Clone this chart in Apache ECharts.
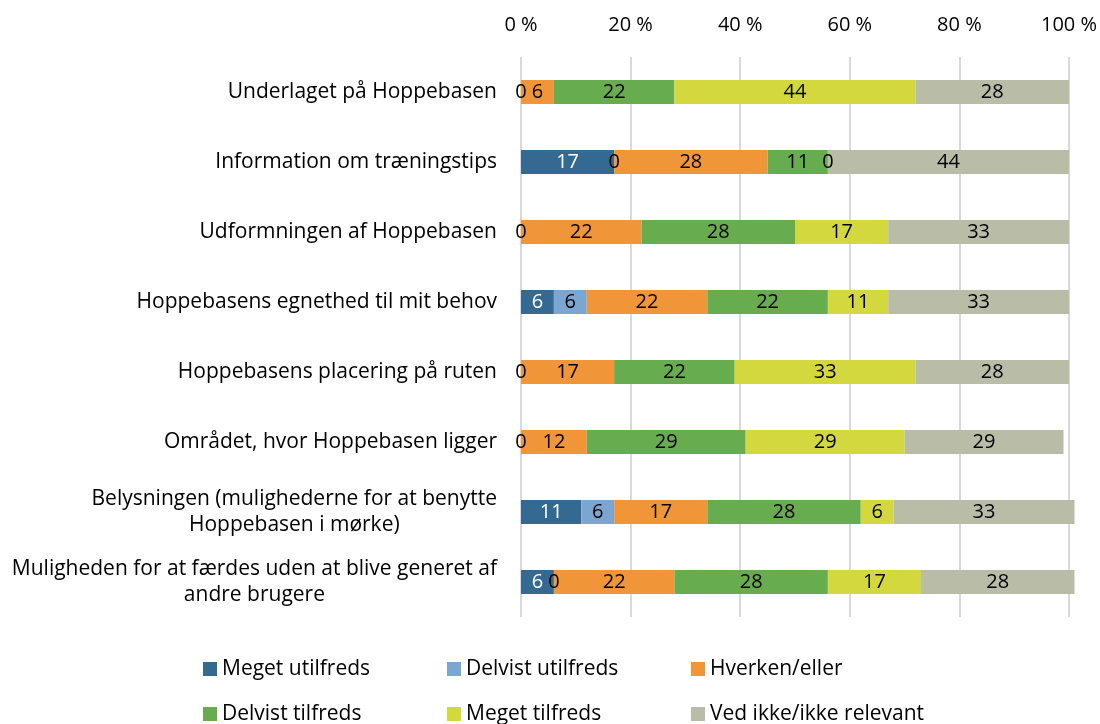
<!DOCTYPE html>
<html>
<head>
<meta charset="utf-8">
<title>Tilfredshed med Hoppebasen</title>
<script src="https://cdn.jsdelivr.net/npm/echarts@6/dist/echarts.min.js"></script>
<style>
  html, body { margin: 0; padding: 0; background: #ffffff; }
  #chart { width: 1100px; height: 724px; }
</style>
</head>
<body>
<div id="chart"></div>
<script>
// Survey items, top to bottom
const categories = [
  'Underlaget på Hoppebasen',
  'Information om træningstips',
  'Udformningen af Hoppebasen',
  'Hoppebasens egnethed til mit behov',
  'Hoppebasens placering på ruten',
  'Området, hvor Hoppebasen ligger',
  'Belysningen (mulighederne for at benytte\nHoppebasen i mørke)',
  'Muligheden for at færdes uden at blive generet af\nandre brugere'
];

// Answer shares in percent, one array per answer option (null = no answers reported)
const megetUtilfreds   = [null, 17, null, 6, null, null, 11, 6];
const delvistUtilfreds = [0, 0, 0, 6, 0, 0, 6, 0];
const hverkenEller     = [6, 28, 22, 22, 17, 12, 17, 22];
const delvistTilfreds  = [22, 11, 28, 22, 22, 29, 28, 28];
const megetTilfreds    = [44, 0, 17, 11, 33, 29, 6, 17];
const vedIkke          = [28, 44, 33, 33, 28, 29, 33, 28];

const axisTicks = [0, 20, 40, 60, 80, 100];

const FONT = 'Open Sans';
const FS = 21;

const seriesDefs = [
  { name: 'Meget utilfreds',          data: megetUtilfreds,   color: '#346a92', text: '#ffffff' },
  { name: 'Delvist utilfreds',        data: delvistUtilfreds, color: '#7ba6d1', text: '#000000' },
  { name: 'Hverken/eller',            data: hverkenEller,     color: '#f09538', text: '#000000' },
  { name: 'Delvist tilfreds',         data: delvistTilfreds,  color: '#67ac4e', text: '#000000' },
  { name: 'Meget tilfreds',           data: megetTilfreds,    color: '#d3d83f', text: '#000000' },
  { name: 'Ved ikke/ikke relevant',   data: vedIkke,          color: '#b9bca7', text: '#000000' }
];

// Legend laid out as a 3 x 2 grid, one legend component per entry
const legendCols = [203, 447, 691];
const legendRows = [658, 703];

const legends = seriesDefs.map((s, i) => ({
  data: [s.name],
  left: legendCols[i % 3],
  top: legendRows[Math.floor(i / 3)],
  orient: 'horizontal',
  padding: 0,
  icon: 'rect',
  itemWidth: 14,
  itemHeight: 14,
  itemGap: 0,
  selectedMode: false,
  textStyle: { fontFamily: FONT, fontSize: FS, lineHeight: 22, color: '#000000' }
}));

const series = seriesDefs.map(s => ({
  name: s.name,
  type: 'bar',
  stack: 'total',
  barWidth: 24,
  clip: false,
  itemStyle: { color: s.color },
  emphasis: { disabled: true },
  label: {
    show: true,
    position: 'inside',
    color: s.text,
    fontFamily: FONT,
    fontSize: 20,
    formatter: p => (p.value === null || p.value === undefined) ? '' : String(p.value)
  },
  data: s.data
}));

const chart = echarts.init(document.getElementById('chart'), null, { renderer: 'canvas' });
chart.setOption({
  animation: false,
  backgroundColor: '#ffffff',
  textStyle: { fontFamily: FONT },
  grid: { left: 521, right: 30, top: 57, bottom: 107, containLabel: false },
  legend: legends,
  xAxis: {
    type: 'value',
    position: 'top',
    min: axisTicks[0],
    max: axisTicks[axisTicks.length - 1],
    interval: axisTicks[1] - axisTicks[0],
    axisLine: { show: false },
    axisTick: { show: false },
    axisLabel: {
      margin: 22,
      fontFamily: FONT,
      fontSize: 20,
      color: '#000000',
      formatter: v => v + ' %'
    },
    splitLine: { show: true, lineStyle: { color: '#d9d9d9', width: 2 } }
  },
  yAxis: {
    type: 'category',
    inverse: true,
    data: categories,
    axisLine: { show: false },
    axisTick: { show: false },
    axisLabel: {
      margin: 24,
      fontFamily: FONT,
      fontSize: FS,
      color: '#000000',
      lineHeight: 26,
      formatter: v => v.split('\n').map(l => '{c|' + l + '}').join('\n'),
      rich: { c: { align: 'center', fontFamily: FONT, fontSize: FS, color: '#000000', lineHeight: 26 } }
    }
  },
  series: series
});
</script>
</body>
</html>
